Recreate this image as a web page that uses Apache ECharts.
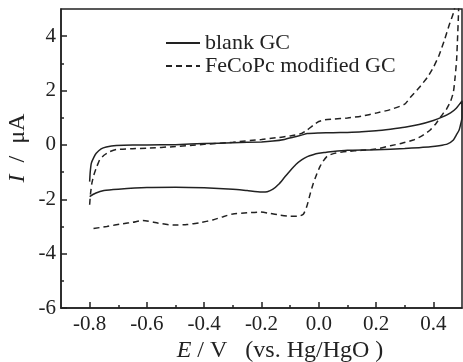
<!DOCTYPE html>
<html><head><meta charset="utf-8">
<script src="https://cdn.jsdelivr.net/npm/echarts@6/dist/echarts.min.js"></script>
<style>html,body{margin:0;padding:0;background:#fff}#c{width:463px;height:362px}</style>
</head><body><div id="c"></div>
<script>
// blank GC (solid): forward sweep then reverse sweep
const blankE = [-0.800,-0.798,-0.794,-0.785,-0.777,-0.760,-0.742,-0.707,-0.65,-0.6,-0.5,-0.4,-0.3,-0.2,-0.16,-0.12,-0.09,-0.06,-0.04,0.0,0.05,0.1,0.15,0.2,0.25,0.3,0.35,0.4,0.43,0.46,0.48,0.5,
  0.5,0.495,0.49,0.48,0.47,0.45,0.42,0.39,0.35,0.3,0.2,0.1,0.05,0.02,0.0,-0.02,-0.04,-0.06,-0.08,-0.1,-0.12,-0.14,-0.16,-0.18,-0.2,-0.25,-0.3,-0.4,-0.5,-0.6,-0.7,-0.75,-0.78,-0.8];
const blankI = [-1.35,-1.0,-0.67,-0.45,-0.31,-0.15,-0.08,-0.02,0.0,0.0,0.01,0.05,0.08,0.11,0.14,0.2,0.28,0.36,0.42,0.44,0.45,0.46,0.48,0.52,0.58,0.65,0.75,0.9,1.02,1.18,1.35,1.62,
  1.0,0.75,0.55,0.36,0.18,0.04,-0.03,-0.07,-0.1,-0.13,-0.18,-0.2,-0.24,-0.28,-0.31,-0.36,-0.43,-0.55,-0.72,-0.95,-1.2,-1.45,-1.63,-1.72,-1.73,-1.68,-1.63,-1.58,-1.56,-1.57,-1.63,-1.68,-1.78,-1.9];
// FeCoPc modified GC (dashed)
const fecoE = [-0.8,-0.797,-0.792,-0.785,-0.775,-0.765,-0.75,-0.73,-0.707,-0.65,-0.6,-0.5,-0.45,-0.4,-0.3,-0.2,-0.15,-0.1,-0.06,-0.04,-0.02,0.0,0.02,0.05,0.1,0.15,0.2,0.25,0.3,0.32,0.35,0.38,0.4,0.42,0.44,0.455,0.47,0.48,
  0.49,0.487,0.484,0.481,0.476,0.47,0.46,0.445,0.435,0.41,0.389,0.36,0.33,0.29,0.25,0.2,0.15,0.1,0.06,0.04,0.028,0.015,0.004,-0.008,-0.019,-0.03,-0.042,-0.054,-0.07,-0.1,-0.136,-0.17,-0.206,-0.25,-0.3,-0.334,-0.37,-0.415,-0.46,-0.509,-0.56,-0.614,-0.65,-0.684,-0.74,-0.788];
const fecoI = [-2.2,-1.8,-1.4,-1.1,-0.8,-0.55,-0.38,-0.25,-0.17,-0.14,-0.12,-0.06,-0.02,0.02,0.1,0.2,0.26,0.33,0.42,0.55,0.72,0.86,0.92,0.95,0.99,1.06,1.17,1.3,1.5,1.75,2.1,2.5,2.85,3.3,3.9,4.4,4.85,5.3,
  5.6,4.6,3.8,3.1,2.5,1.95,1.6,1.3,1.17,0.8,0.55,0.33,0.18,0.06,-0.03,-0.15,-0.2,-0.24,-0.3,-0.36,-0.43,-0.6,-0.8,-1.1,-1.41,-1.8,-2.27,-2.55,-2.62,-2.62,-2.58,-2.52,-2.47,-2.5,-2.54,-2.64,-2.76,-2.86,-2.93,-2.95,-2.88,-2.78,-2.85,-2.9,-3.0,-3.08];
const seriesNames = ['blank GC', 'FeCoPc modified GC'];
const xMajor = [-0.8,-0.6,-0.4,-0.2,0,0.2,0.4];
const xMinor = [-0.7,-0.5,-0.3,-0.1,0.1,0.3];
const yMajor = [-6,-4,-2,0,2,4];
const yMinor = [-5,-3,-1,1,3];

const FONT = 'Liberation Serif';
const INK = '#222';
const chart = echarts.init(document.getElementById('c'), null, {renderer:'canvas'});
const pairs = (xs, ys) => xs.map((x, i) => [x, ys[i]]);
chart.setOption({
  animation:false,
  backgroundColor:'#fff',
  grid:{left:61, top:9, right:1, bottom:54, show:true, borderColor:INK, borderWidth:1.5},
  xAxis:[
    {type:'value', min:-0.9, max:0.5, splitLine:{show:false},
     axisLine:{show:true, onZero:false, lineStyle:{color:INK, width:1.5}},
     axisTick:{show:true, inside:true, length:6, customValues:xMajor, lineStyle:{color:INK, width:1.5}},
     axisLabel:{show:true, customValues:xMajor, formatter:v => Number(v).toFixed(1), fontFamily:FONT, fontSize:21, color:INK, margin:6}},
    {type:'value', min:-0.9, max:0.5, position:'bottom', splitLine:{show:false},
     axisLine:{show:false, onZero:false},
     axisTick:{show:true, inside:true, length:3, customValues:xMinor, lineStyle:{color:INK, width:1.5}},
     axisLabel:{show:false}}
  ],
  yAxis:[
    {type:'value', min:-6, max:5, splitLine:{show:false},
     axisLine:{show:true, onZero:false, lineStyle:{color:INK, width:1.5}},
     axisTick:{show:true, inside:true, length:6, customValues:yMajor, lineStyle:{color:INK, width:1.5}},
     axisLabel:{show:true, customValues:yMajor, formatter:v => String(v), fontFamily:FONT, fontSize:21, color:INK, margin:5}},
    {type:'value', min:-6, max:5, position:'left', splitLine:{show:false},
     axisLine:{show:false, onZero:false},
     axisTick:{show:true, inside:true, length:3, customValues:yMinor, lineStyle:{color:INK, width:1.5}},
     axisLabel:{show:false}}
  ],
  legend:{
    left:160, top:27, orient:'vertical', itemWidth:34, itemHeight:12, itemGap:1,
    data:seriesNames,
    itemStyle:{opacity:0},
    textStyle:{fontFamily:FONT, fontSize:22, color:INK}
  },
  graphic:[
    {type:'text', x:280, y:351, style:{text:'{i|E} / V\u2002 (vs. Hg/HgO )', align:'center', verticalAlign:'middle', fontFamily:FONT, fontSize:24, fill:INK,
      rich:{i:{fontStyle:'italic', fontFamily:FONT, fontSize:24, fill:INK}}}},
    {type:'text', x:18, y:148, rotation:Math.PI/2, style:{text:'{i|I}\u2002/\u2002μA', align:'center', verticalAlign:'middle', fontFamily:FONT, fontSize:24, fill:INK,
      rich:{i:{fontStyle:'italic', fontFamily:FONT, fontSize:24, fill:INK}}}}
  ],
  series:[
    {name:seriesNames[0], type:'line', xAxisIndex:0, yAxisIndex:0, data:pairs(blankE, blankI), showSymbol:false, symbol:'none', smooth:0.2,
     lineStyle:{color:INK, width:1.5, type:'solid'}, itemStyle:{color:INK}},
    {name:seriesNames[1], type:'line', xAxisIndex:0, yAxisIndex:0, data:pairs(fecoE, fecoI), showSymbol:false, symbol:'none', smooth:0.2,
     lineStyle:{color:INK, width:1.5, type:[6,4]}, itemStyle:{color:INK}}
  ]
});
</script></body></html>
